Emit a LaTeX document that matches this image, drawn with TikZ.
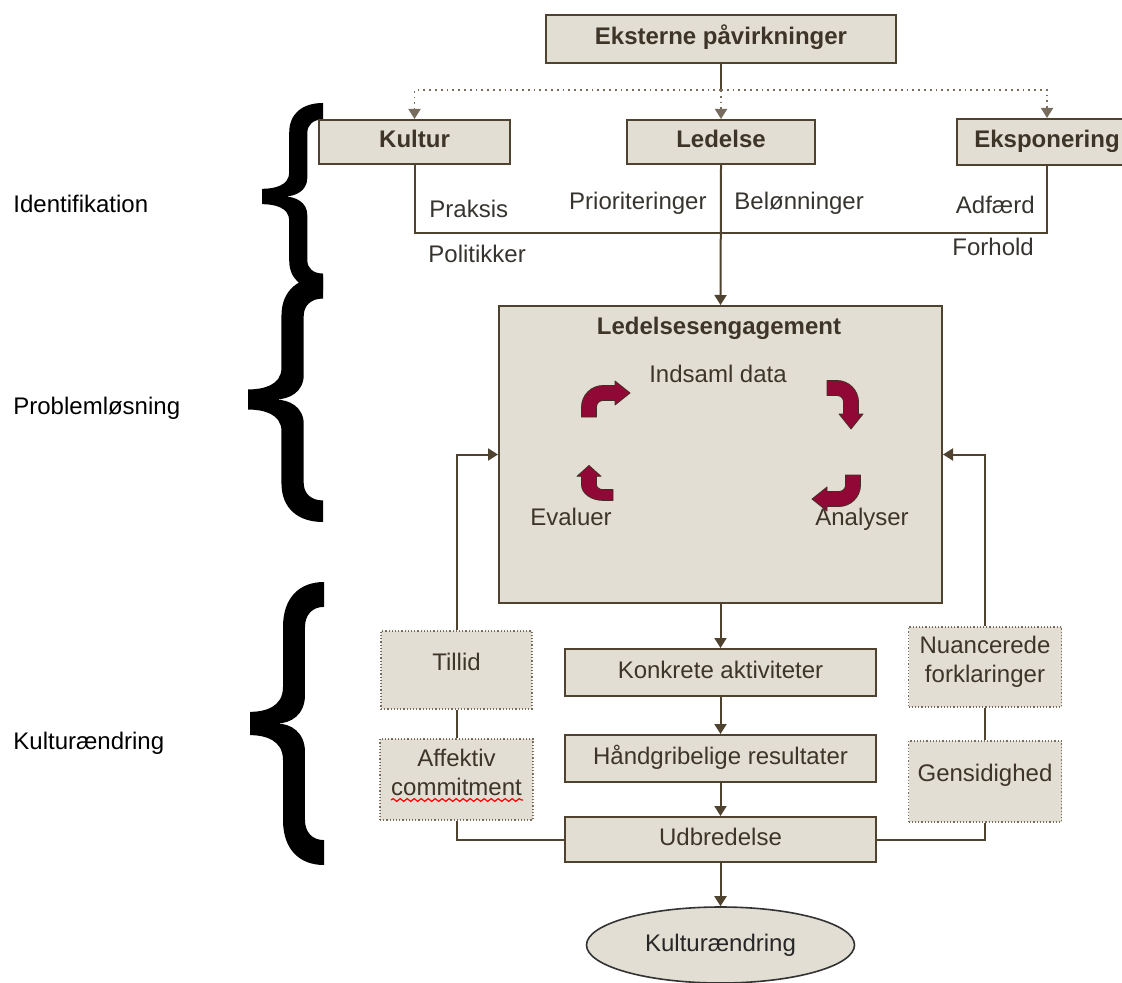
\documentclass[tikz,border=0pt]{standalone}
\usepackage{fontspec}
\setmainfont{Liberation Sans}
\usetikzlibrary{arrows.meta,shapes.geometric,decorations.pathmorphing}

\definecolor{boxfill}{RGB}{226,222,211}
\definecolor{boxline}{RGB}{79,66,46}
\definecolor{boxtext}{RGB}{62,53,40}
\definecolor{notetext}{RGB}{55,52,48}
\definecolor{cyclered}{RGB}{145,8,55}
\definecolor{cyclerim}{RGB}{70,45,35}
\definecolor{softline}{RGB}{120,108,92}

\tikzset{
  stdfont/.style={font=\fontsize{12}{14.5}\selectfont},
  mainbox/.style={draw=boxline, fill=boxfill, line width=1pt, text=boxtext, stdfont,
    text height=9pt, text depth=3pt, inner sep=0pt},
  headbox/.style={mainbox, font=\fontsize{12}{14.5}\selectfont\bfseries},
  softbox/.style={draw=softline, fill=boxfill, densely dotted, line width=0.6pt, text=boxtext,
    stdfont, text height=9pt, text depth=9pt, inner sep=0pt},
  boxlabel/.style={text=boxtext, stdfont, inner sep=0pt, anchor=base},
  notelabel/.style={text=notetext, stdfont, inner sep=0pt, anchor=base west},
  sidelabel/.style={text=black, stdfont, inner sep=0pt, anchor=base west},
  conn/.style={draw=boxline, line width=1pt},
  arrowconn/.style={conn, -{Triangle[width=6pt,length=5pt]}},
  dotconn/.style={draw=softline, line width=0.9pt, dotted, -{Triangle[width=6pt,length=5pt]}},
  cyclearrow/.pic={
    \filldraw[fill=cyclered, draw=cyclerim, line width=0.4pt, line join=round]
      (-7.5,0) -- (-7.5,-10) .. controls (-7.5,-21.8) and (2.2,-31.5) .. (14,-31.5)
      -- (26,-31.5) -- (26,-36) -- (41,-24) -- (26,-12) -- (26,-16.5) -- (14,-16.5)
      .. controls (10.4,-16.5) and (7.5,-13.6) .. (7.5,-10) -- (7.5,0) -- cycle;
  },
  % brace in a unit box, tip at the left, y downwards
  bigbrace/.pic={
    \fill[black]
      (1,0) .. controls (0.676,0) and (0.446,0.053) .. (0.446,0.159)
      -- (0.446,0.371) .. controls (0.446,0.442) and (0.203,0.459) .. (0,0.459)
      -- (0,0.541) .. controls (0.203,0.541) and (0.446,0.558) .. (0.446,0.629)
      -- (0.446,0.841) .. controls (0.446,0.947) and (0.676,1) .. (1,1)
      -- (1,0.912) .. controls (0.838,0.912) and (0.743,0.883) .. (0.743,0.841)
      -- (0.743,0.601) .. controls (0.743,0.530) and (0.55,0.5) .. (0.36,0.5)
      .. controls (0.55,0.5) and (0.743,0.470) .. (0.743,0.399)
      -- (0.743,0.159) .. controls (0.743,0.117) and (0.838,0.088) .. (1,0.088)
      -- cycle;
  }
}

\begin{document}
\begin{tikzpicture}[x=0.5pt, y=-0.5pt]
  \useasboundingbox (0,0) rectangle (1122,983);

  % Phase labels and braces
  \node[sidelabel] (ident) at (13,213) {Identifikation};
  \node[sidelabel] (problem) at (13,415) {Problemløsning};
  \node[sidelabel] (changelbl) at (13,749) {Kulturændring};
  \foreach \bx/\by/\bw/\bh in {262/103/61/187, 248/277/75/245, 250/582/74/283}
    \pic[xscale=\bw, yscale=\bh] at (\bx,\by) {bigbrace};

  % Identification
  \node[headbox, minimum width=175pt, minimum height=24pt] (ekst) at (721,39) {Eksterne påvirkninger};
  \node[headbox, minimum width=95.5pt, minimum height=22pt] (kultur) at (414.5,142) {Kultur};
  \node[headbox, minimum width=94pt, minimum height=22pt] (ledelse) at (721,142) {Ledelse};
  \node[headbox, minimum width=90pt, minimum height=23pt] (eksp) at (1047,142) {Eksponering};
  \coordinate (fork) at (721,90);
  \coordinate (join) at (721,233);

  \draw[conn] (ekst.south) -- (fork);
  \draw[dotconn] (fork) -| (kultur.north);
  \draw[dotconn] (fork) -| (eksp.north);
  \draw[dotconn] (fork) -- (ledelse.north);
  \draw[conn] (kultur.south) |- (join) -| (eksp.south);

  \node[notelabel] (praksis) at (429,218) {Praksis};
  \node[notelabel] (politik) at (428,263) {Politikker};
  \node[notelabel, anchor=base east] (prior) at (707,210) {Prioriteringer};
  \node[notelabel] (beloen) at (734,210) {Belønninger};
  \node[notelabel, anchor=base east] (adfaerd) at (1035,214) {Adfærd};
  \node[notelabel] (forhold) at (952,256) {Forhold};

  % Problem solving
  \node[mainbox, minimum width=221.5pt, minimum height=148.5pt] (engage) at (720.5,454.5) {};
  \draw[arrowconn] (ledelse.south) -- (engage.north);
  \node[boxlabel, font=\fontsize{12}{14.5}\selectfont\bfseries] (engtitle) at (719,335) {Ledelsesengagement};
  \foreach \px/\py/\ang/\sx in {589/417/0/1, 827/388/-90/1, 853/475/180/1, 613/495/90/0.72}
    \pic[rotate=\ang, xscale=\sx] at (\px,\py) {cyclearrow};
  \node[boxlabel] (collect) at (718,383) {Indsaml data};
  \node[boxlabel] (evaluate) at (571,525) {Evaluer};
  \node[boxlabel] (analyse) at (862,525) {Analyser};

  % Culture change
  \node[softbox, minimum width=75.5pt, minimum height=39pt] (tillid) at (456.5,670) {Tillid};
  \node[softbox, minimum width=76.5pt, minimum height=40.5pt] (affekt) at (456.5,779.5) {};
  \node[boxlabel] (affekt1) at (456.5,766) {Affektiv};
  \node[boxlabel] (affekt2) at (456.5,795) {commitment};
  \draw[red, line width=0.6pt, decorate, decoration={snake, amplitude=0.7pt, segment length=3.5pt}]
    (391,800) -- (523,800);
  \node[softbox, minimum width=76.5pt, minimum height=40pt] (nuance) at (985,667) {};
  \node[boxlabel] (nuance1) at (985,653) {Nuancerede};
  \node[boxlabel] (nuance2) at (985,682) {forklaringer};
  \node[softbox, minimum width=76.5pt, minimum height=40.5pt] (gensid) at (985,781.5) {Gensidighed};

  \node[mainbox, minimum width=155.5pt, minimum height=23.5pt] (konkret) at (720.5,672.5) {Konkrete aktiviteter};
  \node[mainbox, minimum width=155.5pt, minimum height=23.5pt] (haand) at (720.5,758.5) {Håndgribelige resultater};
  \node[mainbox, minimum width=155.5pt, minimum height=22.5pt] (udbred) at (720.5,839.5) {Udbredelse};
  \node[ellipse, draw=black!80, fill=boxfill, line width=0.8pt, text=black!85, stdfont,
    text height=9pt, text depth=3pt, inner sep=0pt, minimum width=134pt, minimum height=38pt]
    (change) at (720.5,945) {Kulturændring};

  \draw[arrowconn] (engage.south) -- (konkret.north);
  \draw[arrowconn] (konkret.south) -- (haand.north);
  \draw[arrowconn] (haand.south) -- (udbred.north);
  \draw[arrowconn] (udbred.south) -- (change.north);

  \draw[arrowconn] (tillid.north) |- (engage.west);
  \draw[conn] (tillid.south) -- (affekt.north);
  \draw[conn] (affekt.south) |- (udbred.west);
  \draw[arrowconn] (nuance.north) |- (engage.east);
  \draw[conn] (nuance.south) -- (gensid.north);
  \draw[conn] (gensid.south) |- (udbred.east);
\end{tikzpicture}
\end{document}
